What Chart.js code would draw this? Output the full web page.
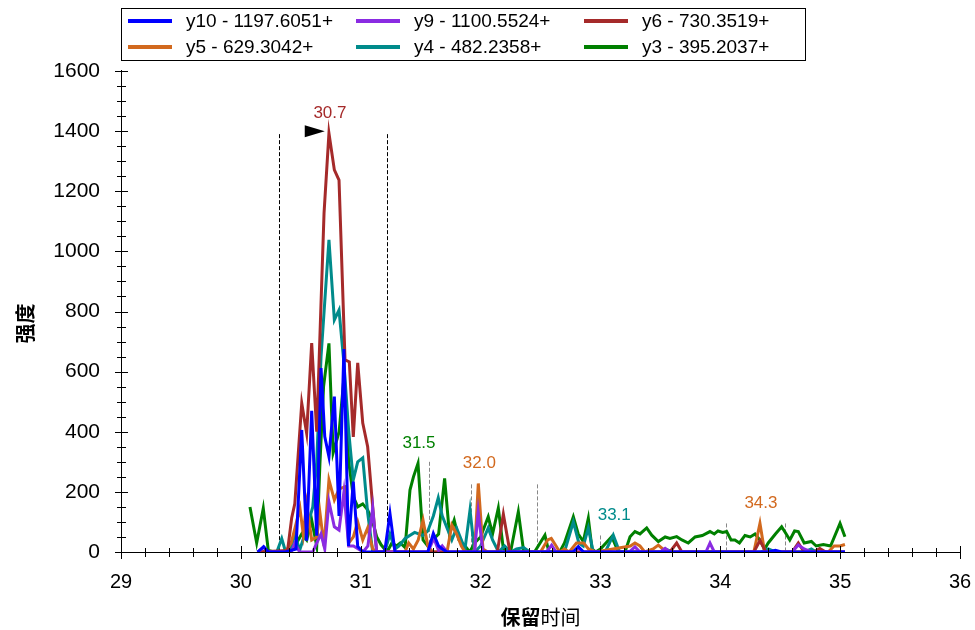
<!DOCTYPE html>
<html lang="zh">
<head>
<meta charset="utf-8">
<title>XIC</title>
<script src="https://cdn.jsdelivr.net/npm/chart.js@4.4.1/dist/chart.umd.min.js"></script>
<style>
    html, body { margin: 0; padding: 0; background: #fff; }
    #wrap { width: 975px; height: 630px; }
</style>
</head>
<body>
<div id="wrap"><canvas id="chart" width="975" height="630"></canvas></div>
<script>
// ---- data (retention time in min, intensity) ----
const seriesNames = ['y10 - 1197.6051+', 'y9 - 1100.5524+', 'y6 - 730.3519+',
                     'y5 - 629.3042+', 'y4 - 482.2358+', 'y3 - 395.2037+'];
const seriesColors = ['#0000FF', '#8A2BE2', '#A52A2A', '#D2691E', '#008B8B', '#008000'];

const y10Times = [30.14, 30.19, 30.23, 30.37, 30.46, 30.508, 30.549, 30.591, 30.633, 30.669, 30.70, 30.735, 30.78, 30.819, 30.86, 30.898, 30.938, 30.975, 31.02, 31.20, 31.244, 31.286, 31.56, 31.606, 31.65, 31.68, 31.72, 32.77, 32.815, 32.86, 34.40, 34.46, 34.51, 35.04];
const y10Values = [0, 18, 0, 0, 10, 406, 38, 470, 54, 612, 384, 317, 517, 120, 675, 20, 234, 18, 0, 0, 128, 0, 0, 62, 20, 10, 0, 0, 18, 0, 0, 6, 0, 0];

const y9Times = [30.14, 30.19, 30.23, 30.42, 30.45, 30.49, 30.60, 30.633, 30.669, 30.70, 30.735, 30.78, 30.819, 30.86, 30.90, 30.94, 30.98, 31.02, 31.06, 31.10, 31.133, 31.22, 31.56, 31.61, 31.65, 31.68, 31.72, 31.95, 31.98, 32.02, 32.55, 32.593, 32.63, 32.78, 32.815, 32.86, 33.24, 33.288, 33.33, 33.50, 33.54, 33.58, 33.88, 33.914, 33.95, 34.60, 34.65, 34.70, 34.76, 35.04];
const y9Values = [0, 15, 0, 0, 30, 0, 0, 30, 60, 10, 167, 84, 73, 200, 20, 20, 10, 0, 20, 146, 0, 0, 0, 45, 5, 20, 0, 0, 134, 0, 0, 23, 0, 0, 12, 0, 0, 17, 0, 0, 12, 0, 0, 30, 0, 0, 23, 10, 0, 0];

const y6Times = [30.14, 30.39, 30.424, 30.45, 30.508, 30.549, 30.591, 30.633, 30.694, 30.735, 30.78, 30.819, 30.869, 30.905, 30.938, 30.975, 31.017, 31.058, 31.10, 31.133, 32.14, 32.19, 32.245, 33.58, 33.636, 33.68, 34.28, 34.331, 34.38, 34.60, 34.651, 34.70, 34.78, 34.83, 34.88, 35.04];
const y6Values = [0, 5, 113, 160, 495, 395, 695, 400, 1127, 1393, 1271, 1237, 639, 632, 383, 629, 429, 350, 150, 0, 0, 126, 0, 0, 30, 0, 0, 38, 0, 0, 30, 0, 0, 12, 0, 0];

const y5Times = [30.14, 30.37, 30.42, 30.452, 30.493, 30.52, 30.549, 30.591, 30.633, 30.66, 30.694, 30.735, 30.78, 30.819, 30.869, 30.90, 30.938, 30.975, 31.017, 31.058, 31.10, 31.14, 31.37, 31.40, 31.44, 31.48, 31.52, 31.56, 31.60, 31.72, 31.76, 31.80, 31.84, 31.87, 31.95, 31.981, 32.02, 32.06, 32.50, 32.56, 32.59, 32.63, 32.66, 32.70, 32.74, 32.80, 32.86, 32.90, 32.96, 33.25, 33.288, 33.33, 33.37, 33.44, 33.483, 33.52, 33.58, 34.28, 34.331, 34.37, 34.90, 34.95, 35.00, 35.04];
const y5Values = [0, 0, 30, 80, 146, 60, 160, 40, 50, 130, 20, 240, 173, 210, 217, 30, 50, 100, 40, 80, 10, 0, 0, 30, 10, 40, 106, 20, 0, 0, 90, 60, 20, 0, 0, 228, 10, 0, 0, 40, 45, 20, 0, 10, 0, 30, 30, 10, 0, 20, 30, 20, 0, 10, 23, 10, 0, 0, 95, 0, 0, 20, 20, 25];

const y4Times = [30.14, 30.30, 30.341, 30.37, 30.41, 30.452, 30.49, 30.55, 30.60, 30.633, 30.669, 30.735, 30.78, 30.819, 30.86, 30.90, 30.938, 30.975, 31.017, 31.058, 31.10, 31.20, 31.244, 31.286, 31.32, 31.37, 31.45, 31.52, 31.56, 31.606, 31.647, 31.68, 31.72, 31.76, 31.80, 31.84, 31.87, 31.912, 31.95, 32.00, 32.064, 32.10, 32.15, 32.20, 32.25, 32.30, 32.36, 32.41, 32.70, 32.774, 32.82, 32.857, 32.899, 32.94, 33.04, 33.107, 33.16, 33.50, 33.54, 33.60, 34.34, 34.40, 34.46, 34.70, 34.76, 34.80, 35.04];
const y4Values = [0, 0, 45, 5, 0, 60, 5, 80, 150, 300, 650, 1038, 772, 805, 628, 400, 240, 300, 313, 130, 0, 0, 60, 10, 20, 45, 65, 55, 70, 120, 180, 120, 80, 40, 80, 40, 10, 140, 0, 20, 80, 40, 0, 20, 0, 10, 15, 0, 0, 100, 30, 20, 80, 0, 0, 56, 0, 0, 10, 0, 0, 10, 0, 0, 10, 0, 0];

const y3Times = [30.076, 30.132, 30.187, 30.229, 30.28, 30.40, 30.45, 30.508, 30.549, 30.591, 30.633, 30.66, 30.69, 30.735, 30.77, 30.82, 30.86, 30.90, 30.938, 30.975, 31.017, 31.058, 31.10, 31.133, 31.17, 31.22, 31.26, 31.30, 31.33, 31.37, 31.411, 31.44, 31.478, 31.52, 31.56, 31.60, 31.65, 31.70, 31.74, 31.78, 31.82, 31.87, 31.91, 31.95, 32.00, 32.064, 32.10, 32.148, 32.19, 32.25, 32.315, 32.36, 32.45, 32.537, 32.57, 32.66, 32.70, 32.774, 32.815, 32.857, 32.899, 32.93, 32.96, 33.00, 33.094, 33.15, 33.205, 33.247, 33.288, 33.33, 33.386, 33.428, 33.483, 33.54, 33.58, 33.636, 33.68, 33.733, 33.79, 33.85, 33.914, 33.95, 33.981, 34.02, 34.053, 34.09, 34.122, 34.16, 34.206, 34.25, 34.29, 34.331, 34.37, 34.40, 34.46, 34.512, 34.55, 34.58, 34.62, 34.651, 34.70, 34.76, 34.80, 34.86, 34.92, 34.999, 35.04];
const y3Values = [150, 30, 145, 5, 0, 0, 20, 60, 40, 106, 20, 296, 550, 694, 330, 400, 580, 300, 184, 150, 160, 140, 100, 51, 24, 0, 30, 20, 30, 15, 206, 250, 295, 40, 20, 40, 60, 245, 60, 106, 40, 20, 0, 30, 50, 117, 60, 146, 10, 0, 134, 0, 0, 56, 0, 0, 30, 117, 60, 35, 112, 10, 0, 10, 51, 0, 0, 51, 68, 60, 80, 56, 35, 50, 45, 51, 40, 30, 50, 55, 68, 60, 70, 65, 68, 40, 40, 30, 55, 50, 60, 40, 10, 30, 60, 84, 60, 40, 70, 68, 30, 35, 20, 25, 20, 95, 51];

// peak boundaries, labels and the apex marker
const boundaryTimes = [30.32, 31.22];
const boundaryTop = 1390;
const minorBoundaryTimes = [31.57, 31.92, 32.47, 33.0, 34.05, 34.54];
const minorBoundaryTops = [300, 225, 225, 55, 95, 95];
const peakLabels = ['30.7', '31.5', '32.0', '33.1', '34.3'];
const peakTimes = [30.735, 31.478, 31.981, 33.107, 34.331];
const peakValues = [1393, 295, 228, 56, 95];
const peakSeries = [2, 5, 3, 4, 3];
const markerTime = 30.70;
const markerValue = 1400;

const xTicks = { min: 29, max: 36, step: 1, minorStep: 0.2 };
const yTicks = { min: 0, max: 1600, step: 200, minorStep: 50 };
const xTitleBold = '保留';
const xTitleNormal = '时间';
const yTitle = '强度';

const allTimes = [y10Times, y9Times, y6Times, y5Times, y4Times, y3Times];
const allValues = [y10Values, y9Values, y6Values, y5Values, y4Values, y3Values];

const LATIN = '"Liberation Sans", Arial, sans-serif';
const CJK = '"Noto Sans CJK SC", sans-serif';

// tick marks crossing both axes
const axisTicks = {
    id: 'axisTicks',
    afterDraw(chart) {
        const ctx = chart.ctx;
        const xs = chart.scales.x, ys = chart.scales.y;
        const x0 = xs.left, y0 = ys.bottom;
        ctx.save();
        ctx.strokeStyle = '#000';
        ctx.lineWidth = 1;
        ctx.beginPath();
        ctx.moveTo(x0 + 0.5, ys.top - 1);
        ctx.lineTo(x0 + 0.5, y0 + 0.5);
        ctx.lineTo(xs.right, y0 + 0.5);
        const nx = Math.round((xTicks.max - xTicks.min) / xTicks.minorStep);
        for (let i = 0; i <= nx; i++) {
            const v = xTicks.min + i * xTicks.minorStep;
            const px = Math.round(xs.getPixelForValue(v)) + 0.5;
            const len = i % 5 === 0 ? 6 : 4;
            ctx.moveTo(px, y0 - len);
            ctx.lineTo(px, y0 + len + 1);
        }
        const ny = Math.round((yTicks.max - yTicks.min) / yTicks.minorStep);
        for (let i = 0; i <= ny; i++) {
            const v = yTicks.min + i * yTicks.minorStep;
            const py = Math.round(ys.getPixelForValue(v)) + 0.5;
            const len = i % 4 === 0 ? 6 : 4;
            ctx.moveTo(x0 - len, py);
            ctx.lineTo(x0 + len + 1, py);
        }
        ctx.stroke();
        ctx.restore();
    }
};

// dashed boundaries under the traces
const peakBounds = {
    id: 'peakBounds',
    beforeDatasetsDraw(chart) {
        const ctx = chart.ctx;
        const xs = chart.scales.x, ys = chart.scales.y;
        ctx.save();
        ctx.lineWidth = 1;
        ctx.setLineDash([4, 2]);
        ctx.strokeStyle = '#000';
        boundaryTimes.forEach(t => {
            const px = Math.round(xs.getPixelForValue(t)) + 0.5;
            ctx.beginPath();
            ctx.moveTo(px, ys.getPixelForValue(boundaryTop));
            ctx.lineTo(px, ys.getPixelForValue(0));
            ctx.stroke();
        });
        ctx.strokeStyle = '#888';
        minorBoundaryTimes.forEach((t, i) => {
            const px = Math.round(xs.getPixelForValue(t)) + 0.5;
            ctx.beginPath();
            ctx.moveTo(px, ys.getPixelForValue(minorBoundaryTops[i]));
            ctx.lineTo(px, ys.getPixelForValue(0));
            ctx.stroke();
        });
        ctx.restore();
    },
    afterDatasetsDraw(chart) {
        const ctx = chart.ctx;
        const xs = chart.scales.x, ys = chart.scales.y;
        ctx.save();
        // apex marker
        const mx = xs.getPixelForValue(markerTime), my = ys.getPixelForValue(markerValue);
        ctx.fillStyle = '#000';
        ctx.beginPath();
        ctx.moveTo(mx, my);
        ctx.lineTo(mx - 20, my - 6);
        ctx.lineTo(mx - 20, my + 6);
        ctx.closePath();
        ctx.fill();
        // labels
        ctx.font = '17px ' + LATIN;
        ctx.textAlign = 'center';
        ctx.textBaseline = 'middle';
        peakLabels.forEach((txt, i) => {
            ctx.fillStyle = seriesColors[peakSeries[i]];
            ctx.fillText(txt, xs.getPixelForValue(peakTimes[i]) + 1, ys.getPixelForValue(peakValues[i]) - 20);
        });
        ctx.restore();
    }
};

// boxed legend in three columns, plus the axis titles
const legendAndTitles = {
    id: 'legendAndTitles',
    afterDraw(chart) {
        const ctx = chart.ctx;
        const area = chart.chartArea;
        ctx.save();
        const boxX = area.left, boxY = 8, boxW = 684, boxH = 52;
        ctx.fillStyle = '#fff';
        ctx.fillRect(boxX, boxY, boxW, boxH);
        ctx.strokeStyle = '#000';
        ctx.lineWidth = 1;
        ctx.strokeRect(boxX + 0.5, boxY + 0.5, boxW, boxH);
        ctx.font = '19px ' + LATIN;
        ctx.textBaseline = 'middle';
        ctx.textAlign = 'left';
        seriesNames.forEach((name, i) => {
            const col = i % 3, row = Math.floor(i / 3);
            const cx = boxX + col * 228;
            const cy = boxY + 13 + row * 26;
            ctx.strokeStyle = seriesColors[i];
            ctx.lineWidth = 4;
            ctx.beginPath();
            ctx.moveTo(cx + 7, cy);
            ctx.lineTo(cx + 51, cy);
            ctx.stroke();
            ctx.fillStyle = '#000';
            ctx.fillText(name, cx + 65, cy + 1);
        });

        // y title
        ctx.fillStyle = '#000';
        ctx.font = 'bold 20px ' + CJK;
        ctx.textAlign = 'center';
        ctx.save();
        ctx.translate(25, (area.top + area.bottom) / 2 + 12);
        ctx.rotate(-Math.PI / 2);
        ctx.fillText(yTitle, 0, 0);
        ctx.restore();

        // x title: first half bold, second half regular
        const cx = (area.left + area.right) / 2;
        const ty = 617;
        ctx.font = 'bold 20px ' + CJK;
        const w1 = ctx.measureText(xTitleBold).width;
        ctx.font = '20px ' + CJK;
        const w2 = ctx.measureText(xTitleNormal).width;
        const start = cx - (w1 + w2) / 2;
        ctx.textAlign = 'left';
        ctx.font = 'bold 20px ' + CJK;
        ctx.fillText(xTitleBold, start, ty);
        ctx.font = '20px ' + CJK;
        ctx.fillText(xTitleNormal, start + w1, ty);
        ctx.restore();
    }
};

const datasets = seriesNames.map((name, i) => ({
    label: name,
    data: allTimes[i].map((t, j) => ({ x: t, y: allValues[i][j] })),
    borderColor: seriesColors[i],
    backgroundColor: seriesColors[i],
    borderWidth: 3,
    pointRadius: 0,
    tension: 0,
    fill: false
}));

new Chart(document.getElementById('chart').getContext('2d'), {
    type: 'line',
    data: { datasets },
    options: {
        responsive: false,
        animation: false,
        devicePixelRatio: 1,
        layout: { padding: { top: 71, right: 15, left: 0, bottom: 0 } },
        plugins: { legend: { display: false }, tooltip: { enabled: false } },
        scales: {
            x: {
                type: 'linear',
                min: xTicks.min,
                max: xTicks.max,
                grid: { display: false },
                border: { display: false },
                ticks: { stepSize: xTicks.step, color: '#000', padding: 10, font: { family: LATIN, size: 20 },
                         callback: v => String(v) },
                afterFit(scale) {
                    scale.height = 78;
                    scale.paddingLeft = 0;
                    scale.paddingRight = 0;
                }
            },
            y: {
                min: yTicks.min,
                max: yTicks.max,
                grid: { display: false },
                border: { display: false },
                ticks: { stepSize: yTicks.step, color: '#000', padding: 13, font: { family: LATIN, size: 21 },
                         callback: v => String(v) },
                afterFit(scale) { scale.width = 121; }
            }
        }
    },
    plugins: [peakBounds, axisTicks, legendAndTitles]
});
</script>
</body>
</html>
